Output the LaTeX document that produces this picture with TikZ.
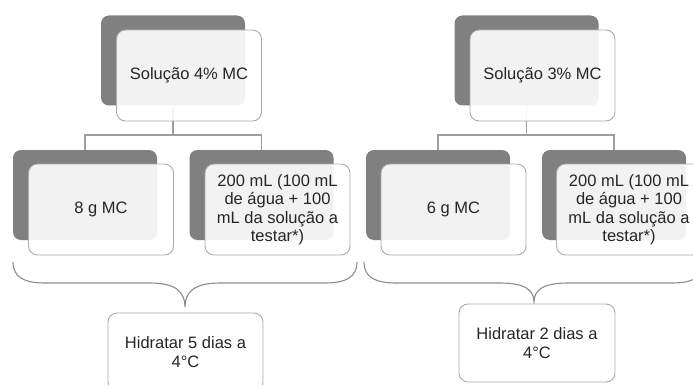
\documentclass[tikz,border=0pt]{standalone}
\usepackage{fontspec}
\setmainfont{Liberation Sans}
\usetikzlibrary{positioning, calc}

\tikzset{
  backbox/.style={fill=gray, draw=none, rounded corners=8pt, inner sep=0pt,
    minimum width=144pt, minimum height=90pt},
  frontbox/.style={fill=white, fill opacity=0.9, text opacity=1, draw=black!33,
    line width=0.9pt, rounded corners=9pt, inner sep=0pt, text=black!85,
    minimum width=145pt, minimum height=91pt, align=center,
    font=\fontsize{16.5}{18.5}\selectfont},
  endbox/.style={frontbox, fill opacity=1, minimum width=155pt, minimum height=78pt},
  linkline/.style={draw=black!38, line width=1.3pt},
  bracepath/.style={draw=black!45, line width=1.1pt}
}

\begin{document}
\begin{tikzpicture}[x=1pt, y=-1pt]
  \useasboundingbox (0,0) rectangle (693,385);
  \clip (0,0) rectangle (693,385);

  % back boxes
  \node[backbox] (topLd) at (173,60.5) {};
  \node[backbox] (topRd) at (526.5,60.5) {};
  \node[backbox] (c1d) at (85,195) {};
  \node[backbox] (c2d) at (261.5,195) {};
  \node[backbox] (c3d) at (438,195) {};
  \node[backbox] (c4d) at (614,195) {};

  % links
  \coordinate (busL) at (173,135);
  \coordinate (busR) at (526.5,135);
  \draw[linkline] (topLd.south) -- (busL);
  \draw[linkline] (busL) -| (c1d.north);
  \draw[linkline] (busL) -| (c2d.north);
  \draw[linkline] (topRd.south) -- (busR);
  \draw[linkline] (busR) -| (c3d.north);
  \draw[linkline] (busR) -| (c4d.north);

  % front boxes
  \node[frontbox] (topL) at (189,75.5) {Solução 4\% MC};
  \node[frontbox] (topR) at (542.5,75.5) {Solução 3\% MC};
  \node[frontbox] (c1) at (101,209.5) {8 g MC};
  \node[frontbox] (c2) at (277.5,209.5) {200 mL (100 mL\\de água + 100\\mL da solução a\\testar*)};
  \node[frontbox] (c3) at (453.5,209.5) {6 g MC};
  \node[frontbox] (c4) at (629,209.5) {200 mL (100 mL\\de água + 100\\mL da solução a\\testar*)};

  % braces
  \coordinate (bL1) at (13,262);
  \coordinate (bL2) at (357,262);
  \coordinate (tipL) at (185,307);
  \coordinate (bR1) at (364,262);
  \coordinate (bR2) at (704,262);
  \coordinate (tipR) at (534,302);
  \draw[bracepath] (bL1) .. controls (13,277) and (24,283) .. (45,283) -- (150,283)
    .. controls (176,283) and (185,292) .. (tipL)
    .. controls (185,292) and (194,283) .. (220,283) -- (325,283)
    .. controls (346,283) and (357,277) .. (bL2);
  \draw[bracepath] (bR1) .. controls (364,277) and (375,283) .. (396,283) -- (500,283)
    .. controls (525,283) and (534,290) .. (tipR)
    .. controls (534,290) and (543,283) .. (568,283) -- (672,283)
    .. controls (693,283) and (704,277) .. (bR2);

  % results
  \node[endbox] (resL) at (185.5,352) {Hidratar 5 dias a\\4°C};
  \node[endbox, minimum width=156pt] (resR) at (537,343) {Hidratar 2 dias a\\4°C};
\end{tikzpicture}
\end{document}
